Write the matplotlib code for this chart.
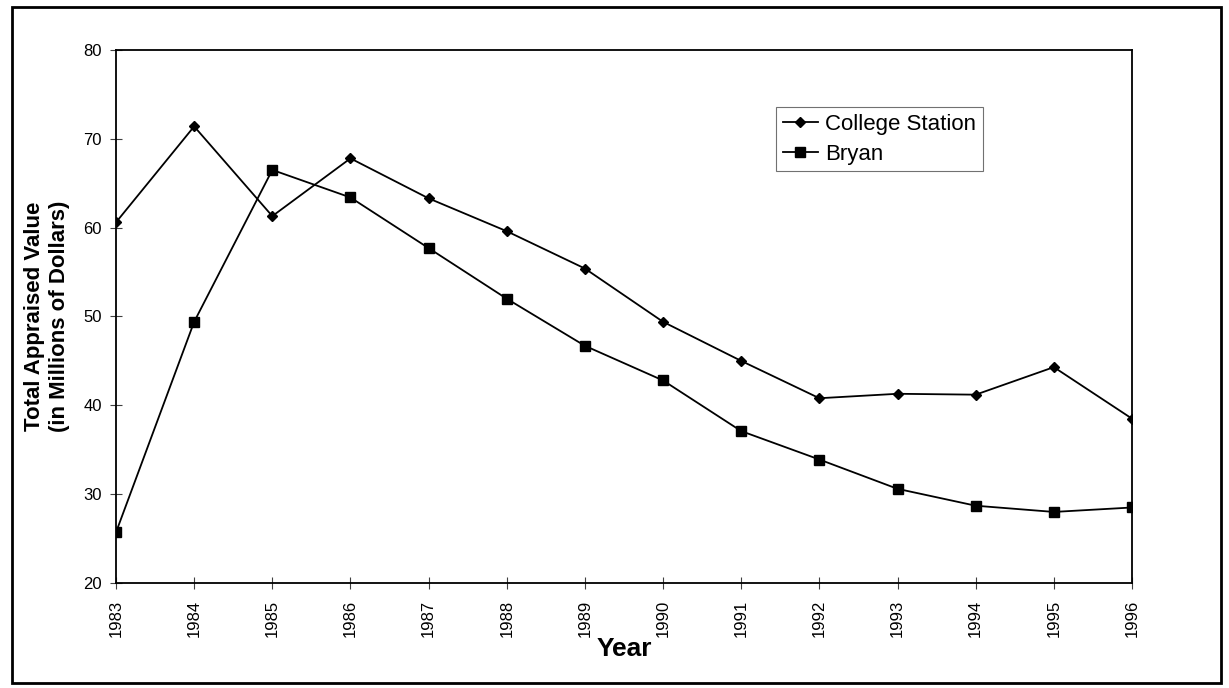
import matplotlib.pyplot as plt
from matplotlib.patches import Rectangle

plt.rcParams['font.family'] = ['Liberation Sans', 'DejaVu Sans']

# Appraised values by year (millions of dollars)
years = list(range(1983, 1997))
college_station = [60.6, 71.4, 61.3, 67.8, 63.3, 59.6, 55.4, 49.4, 45.0, 40.8, 41.3, 41.2, 44.3, 38.5]
bryan = [25.7, 49.4, 66.5, 63.4, 57.7, 52.0, 46.7, 42.8, 37.1, 33.9, 30.6, 28.7, 28.0, 28.5]

y_ticks = [20, 30, 40, 50, 60, 70, 80]

fig = plt.figure(figsize=(12.29, 6.88), dpi=100)
ax = fig.add_axes([116 / 1229, 1 - 583 / 688, (1132 - 116) / 1229, (583 - 50) / 688])

ax.plot(years, college_station, color='black', lw=1.3, marker='D', markersize=5.5,
        label='College Station')
ax.plot(years, bryan, color='black', lw=1.3, marker='s', markersize=6.5,
        label='Bryan')

ax.set_xlim(1983, 1996)
ax.set_ylim(20, 80)
ax.set_xticks(years)
ax.set_xticklabels([str(y) for y in years], rotation=90, fontsize=12)
ax.set_yticks(y_ticks)
ax.set_yticklabels([str(v) for v in y_ticks], fontsize=12)
ax.tick_params(axis='both', direction='inout', length=8, width=0.8, color='0.25', pad=6)
ax.tick_params(axis='x', pad=8)

for side in ['top', 'bottom', 'left', 'right']:
    ax.spines[side].set_linewidth(1.3)
    ax.spines[side].set_color('black')

ax.set_xlabel('Year', fontsize=19, fontweight='bold', labelpad=0)
fig.text(47.5 / 1229, 1 - 316 / 688, 'Total Appraised Value\n(in Millions of Dollars)',
         rotation=90, ha='center', va='center', fontsize=16, fontweight='bold',
         linespacing=1.25, multialignment='center')

leg = ax.legend(loc='upper left', bbox_to_anchor=(776 / 1229, 1 - 107 / 688),
                bbox_transform=fig.transFigure, fontsize=16, frameon=True,
                fancybox=False, borderaxespad=0, borderpad=0.3, handlelength=1.6,
                handletextpad=0.3, labelspacing=0.4)
leg.get_frame().set_edgecolor('0.3')
leg.get_frame().set_linewidth(0.8)

# border around the whole figure
fig.patches.append(Rectangle((12 / 1229, 1 - 683 / 688), (1221 - 12) / 1229, (683 - 7) / 688,
                             transform=fig.transFigure, fill=False, edgecolor='black',
                             linewidth=2))

fig.savefig('out.png', dpi=100)
